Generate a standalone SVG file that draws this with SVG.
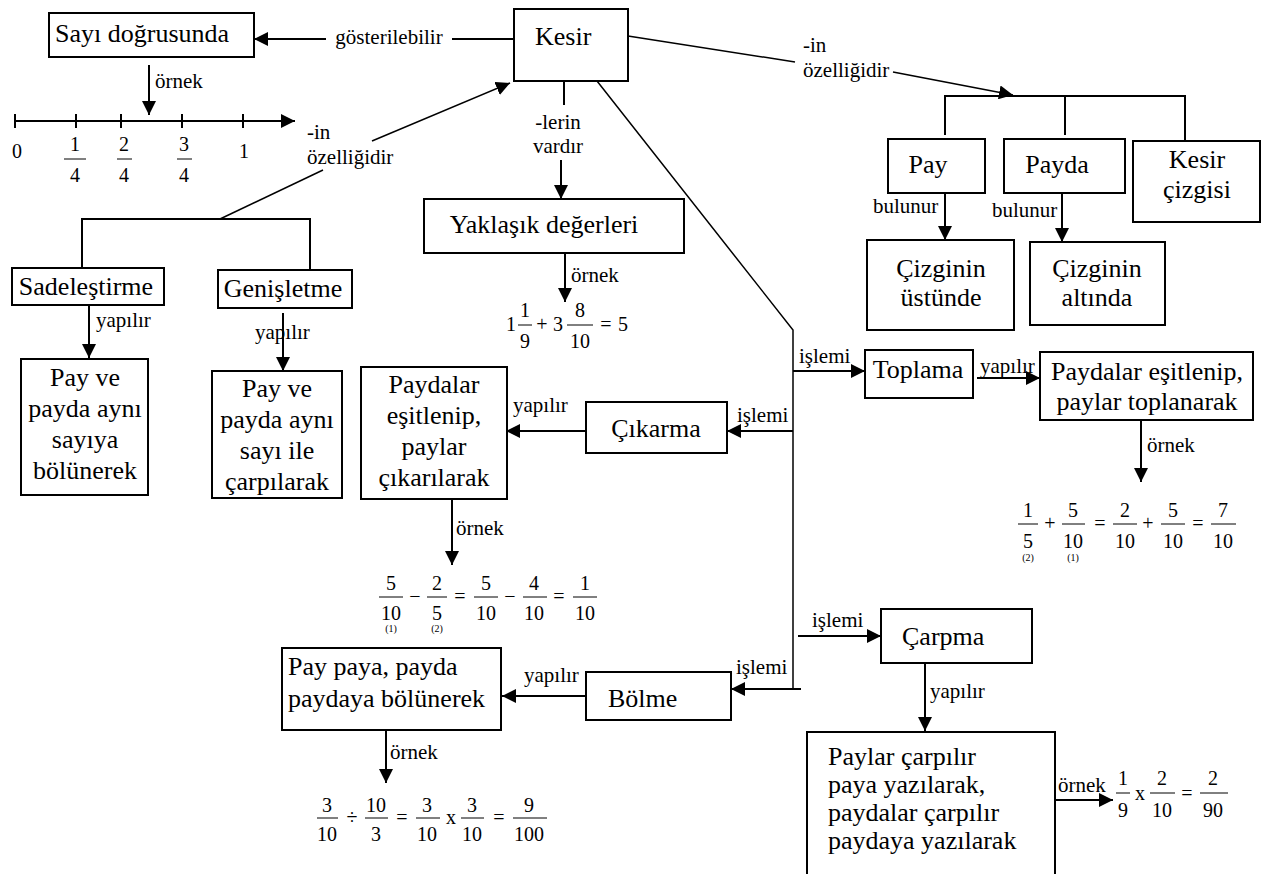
<svg xmlns="http://www.w3.org/2000/svg" width="1272" height="874" viewBox="0 0 1272 874">
<defs>
  <marker id="ah" markerUnits="userSpaceOnUse" markerWidth="15" markerHeight="14" refX="14" refY="7" orient="auto">
    <path d="M0,0 L14,7 L0,14 z" fill="#000"/>
  </marker>
  <style>
    .box { fill: #fff; stroke: #000; stroke-width: 2; }
    .ln { stroke: #000; stroke-width: 2; fill: none; }
    .thin { stroke-width: 1.5; }
    .bar { stroke: #000; stroke-width: 1; }
    .arr { marker-end: url(#ah); }
    text { font-family: "Liberation Serif", "Times New Roman", serif; fill: #000; }
    .t { font-size: 26px; }
    .lb { font-size: 21px; }
    .n { font-size: 20px; }
    .s { font-size: 10px; }
    .m { text-anchor: middle; }
  </style>
</defs>
<rect width="1272" height="874" fill="#fff"/>

<!-- connectors -->
<g id="connectors" class="ln">
  <line x1="514" y1="39" x2="452" y2="39"/>
  <line class="arr" x1="326" y1="39" x2="254" y2="39"/>
  <line class="thin" x1="628" y1="36" x2="795" y2="62"/>
  <line class="thin arr" x1="893" y1="72" x2="1013" y2="95"/>
  <polyline points="945,135 945,96 1185,96 1185,140"/>
  <line x1="1065" y1="96" x2="1065" y2="135"/>
  <line class="arr" x1="945" y1="193" x2="945" y2="240"/>
  <line class="arr" x1="1062" y1="193" x2="1062" y2="242"/>
  <line class="thin arr" x1="372" y1="141" x2="510" y2="83"/>
  <line class="thin" x1="323" y1="170" x2="220" y2="219"/>
  <polyline points="82,268 82,219 310,219 310,270"/>
  <line class="arr" x1="89" y1="305" x2="89" y2="358"/>
  <line class="arr" x1="283" y1="313" x2="283" y2="371"/>
  <line class="arr" x1="149" y1="65" x2="149" y2="115"/>
  <line x1="564" y1="81" x2="564" y2="105"/>
  <line class="arr" x1="561" y1="160" x2="561" y2="199"/>
  <line class="arr" x1="565" y1="253" x2="565" y2="302"/>
  <polyline class="thin" points="597,81 793,330 793,689"/>
  <line class="arr" x1="793" y1="371" x2="865" y2="371"/>
  <line class="arr" x1="977" y1="378" x2="1040" y2="378"/>
  <line class="arr" x1="1141" y1="420" x2="1141" y2="482"/>
  <line class="arr" x1="793" y1="431" x2="727" y2="431"/>
  <line class="arr" x1="586" y1="431" x2="506" y2="431"/>
  <line class="arr" x1="452" y1="499" x2="452" y2="565"/>
  <line class="arr" x1="798" y1="636" x2="881" y2="636"/>
  <line class="arr" x1="925" y1="663" x2="925" y2="731"/>
  <line class="arr" x1="1055" y1="800" x2="1113" y2="800"/>
  <line class="arr" x1="801" y1="689" x2="731" y2="689"/>
  <line class="arr" x1="586" y1="696" x2="502" y2="696"/>
  <line class="arr" x1="386" y1="730" x2="386" y2="783"/>
</g>

<!-- connector labels -->
<g id="connector-labels" class="lb">
  <text class="lb m" x="389" y="44">gösterilebilir</text>
  <text class="lb" x="155" y="88">örnek</text>
  <text class="lb" x="307" y="139">-in</text>
  <text class="lb" x="307" y="164">özelliğidir</text>
  <text class="lb" x="803" y="52">-in</text>
  <text class="lb" x="803" y="77">özelliğidir</text>
  <text class="lb m" x="558" y="129">-lerin</text>
  <text class="lb m" x="558" y="153">vardır</text>
  <text class="lb" x="873" y="213">bulunur</text>
  <text class="lb" x="992" y="217">bulunur</text>
  <text class="lb" x="96" y="327">yapılır</text>
  <text class="lb" x="255" y="339">yapılır</text>
  <text class="lb" x="571" y="282">örnek</text>
  <text class="lb" x="799" y="363">işlemi</text>
  <text class="lb" x="980" y="373">yapılır</text>
  <text class="lb" x="1147" y="452">örnek</text>
  <text class="lb" x="737" y="422">işlemi</text>
  <text class="lb" x="513" y="412">yapılır</text>
  <text class="lb" x="456" y="535">örnek</text>
  <text class="lb" x="812" y="627">işlemi</text>
  <text class="lb" x="930" y="698">yapılır</text>
  <text class="lb" x="1058" y="792">örnek</text>
  <text class="lb" x="736" y="674">işlemi</text>
  <text class="lb" x="524" y="682">yapılır</text>
  <text class="lb" x="390" y="759">örnek</text>
</g>

<!-- nodes -->
<g id="n-kesir">
  <rect class="box" x="514" y="9" width="114" height="72"/>
  <text class="t" x="535" y="45">Kesir</text>
</g>
<g id="n-sayi-dogrusu">
  <rect class="box" x="49" y="13" width="205" height="44"/>
  <text class="t" x="55" y="42">Sayı doğrusunda</text>
</g>
<g id="number-line">
  <line class="ln arr" x1="15" y1="121" x2="295" y2="121"/>
  <path class="ln" d="M15,114V128 M76,114V128 M121,114V128 M182,114V128 M243,114V128"/>
  <text class="n m" x="17" y="158">0</text>
  <text class="n m" x="75" y="151">1</text>
  <line class="bar" x1="64" y1="159" x2="86" y2="159"/>
  <text class="n m" x="75" y="182">4</text>
  <text class="n m" x="124" y="151">2</text>
  <line class="bar" x1="117" y1="159" x2="132" y2="159"/>
  <text class="n m" x="124" y="182">4</text>
  <text class="n m" x="184" y="151">3</text>
  <line class="bar" x1="177" y1="159" x2="192" y2="159"/>
  <text class="n m" x="184" y="182">4</text>
  <text class="n m" x="244" y="158">1</text>
</g>
<g id="n-pay">
  <rect class="box" x="888" y="139" width="97" height="54"/>
  <text class="t m" x="928" y="173">Pay</text>
</g>
<g id="n-payda">
  <rect class="box" x="1004" y="139" width="121" height="54"/>
  <text class="t m" x="1057" y="173">Payda</text>
</g>
<g id="n-kesir-cizgisi">
  <rect class="box" x="1133" y="141" width="127" height="81"/>
  <text class="t m" x="1197" y="168">Kesir</text>
  <text class="t m" x="1197" y="198">çizgisi</text>
</g>
<g id="n-cizginin-ustunde">
  <rect class="box" x="867" y="240" width="147" height="90"/>
  <text class="t m" x="941" y="277">Çizginin</text>
  <text class="t m" x="941" y="306">üstünde</text>
</g>
<g id="n-cizginin-altinda">
  <rect class="box" x="1030" y="242" width="135" height="83"/>
  <text class="t m" x="1097" y="277">Çizginin</text>
  <text class="t m" x="1097" y="306">altında</text>
</g>
<g id="n-sadelestirme">
  <rect class="box" x="12" y="268" width="152" height="37"/>
  <text class="t m" x="86" y="295">Sadeleştirme</text>
</g>
<g id="n-genisletme">
  <rect class="box" x="218" y="270" width="134" height="38"/>
  <text class="t m" x="283" y="297">Genişletme</text>
</g>
<g id="n-bolunerek">
  <rect class="box" x="21" y="359" width="127" height="136"/>
  <text class="t m" x="85" y="386">Pay ve</text>
  <text class="t m" x="85" y="417">payda aynı</text>
  <text class="t m" x="85" y="448">sayıya</text>
  <text class="t m" x="85" y="479">bölünerek</text>
</g>
<g id="n-carpilarak">
  <rect class="box" x="212" y="371" width="130" height="127"/>
  <text class="t m" x="277" y="397">Pay ve</text>
  <text class="t m" x="277" y="428">payda aynı</text>
  <text class="t m" x="277" y="459">sayı ile</text>
  <text class="t m" x="277" y="490">çarpılarak</text>
</g>
<g id="n-yaklasik">
  <rect class="box" x="424" y="199" width="260" height="54"/>
  <text class="t m" x="544" y="233">Yaklaşık değerleri</text>
</g>
<g id="expr-yaklasik">
  <text class="n m" x="511" y="331">1</text>
  <text class="n m" x="525" y="317">1</text>
  <line class="bar" x1="518" y1="325" x2="532" y2="325"/>
  <text class="n m" x="525" y="348">9</text>
  <text class="n m" x="542" y="331">+</text>
  <text class="n m" x="558" y="331">3</text>
  <text class="n m" x="580" y="317">8</text>
  <line class="bar" x1="567" y1="325" x2="593" y2="325"/>
  <text class="n m" x="580" y="348">10</text>
  <text class="n m" x="606" y="331">=</text>
  <text class="n m" x="623" y="331">5</text>
</g>
<g id="n-toplama">
  <rect class="box" x="865" y="350" width="108" height="48"/>
  <text class="t m" x="918" y="378">Toplama</text>
</g>
<g id="n-toplama-kural">
  <rect class="box" x="1040" y="352" width="213" height="68"/>
  <text class="t m" x="1147" y="380">Paydalar eşitlenip,</text>
  <text class="t m" x="1147" y="410">paylar toplanarak</text>
</g>
<g id="expr-toplama">
  <text class="n m" x="1028" y="517">1</text>
  <line class="bar" x1="1018" y1="524" x2="1038" y2="524"/>
  <text class="n m" x="1028" y="548">5</text>
  <text class="s m" x="1028" y="561">(2)</text>
  <text class="n m" x="1050" y="530">+</text>
  <text class="n m" x="1073" y="517">5</text>
  <line class="bar" x1="1062" y1="524" x2="1085" y2="524"/>
  <text class="n m" x="1073" y="548">10</text>
  <text class="s m" x="1073" y="561">(1)</text>
  <text class="n m" x="1100" y="530">=</text>
  <text class="n m" x="1125" y="517">2</text>
  <line class="bar" x1="1113" y1="524" x2="1137" y2="524"/>
  <text class="n m" x="1125" y="548">10</text>
  <text class="n m" x="1148" y="530">+</text>
  <text class="n m" x="1173" y="517">5</text>
  <line class="bar" x1="1161" y1="524" x2="1185" y2="524"/>
  <text class="n m" x="1173" y="548">10</text>
  <text class="n m" x="1198" y="530">=</text>
  <text class="n m" x="1223" y="517">7</text>
  <line class="bar" x1="1211" y1="524" x2="1236" y2="524"/>
  <text class="n m" x="1223" y="548">10</text>
</g>
<g id="n-cikarma">
  <rect class="box" x="586" y="402" width="141" height="51"/>
  <text class="t m" x="656" y="437">Çıkarma</text>
</g>
<g id="n-cikarma-kural">
  <rect class="box" x="361" y="367" width="146" height="132"/>
  <text class="t m" x="434" y="393">Paydalar</text>
  <text class="t m" x="434" y="424">eşitlenip,</text>
  <text class="t m" x="434" y="455">paylar</text>
  <text class="t m" x="434" y="486">çıkarılarak</text>
</g>
<g id="expr-cikarma">
  <text class="n m" x="391" y="590">5</text>
  <line class="bar" x1="379" y1="597" x2="403" y2="597"/>
  <text class="n m" x="391" y="620">10</text>
  <text class="s m" x="391" y="632">(1)</text>
  <text class="n m" x="415" y="603">−</text>
  <text class="n m" x="437" y="590">2</text>
  <line class="bar" x1="427" y1="597" x2="447" y2="597"/>
  <text class="n m" x="437" y="620">5</text>
  <text class="s m" x="437" y="632">(2)</text>
  <text class="n m" x="460" y="603">=</text>
  <text class="n m" x="486" y="590">5</text>
  <line class="bar" x1="474" y1="597" x2="498" y2="597"/>
  <text class="n m" x="486" y="620">10</text>
  <text class="n m" x="510" y="603">−</text>
  <text class="n m" x="534" y="590">4</text>
  <line class="bar" x1="523" y1="597" x2="547" y2="597"/>
  <text class="n m" x="534" y="620">10</text>
  <text class="n m" x="559" y="603">=</text>
  <text class="n m" x="585" y="590">1</text>
  <line class="bar" x1="573" y1="597" x2="597" y2="597"/>
  <text class="n m" x="585" y="620">10</text>
</g>
<g id="n-carpma">
  <rect class="box" x="881" y="609" width="151" height="54"/>
  <text class="t" x="902" y="645">Çarpma</text>
</g>
<g id="n-carpma-kural">
  <rect class="box" x="807" y="732" width="248" height="160"/>
  <text class="t" x="828" y="765">Paylar çarpılır</text>
  <text class="t" x="828" y="793">paya yazılarak,</text>
  <text class="t" x="828" y="821">paydalar çarpılır</text>
  <text class="t" x="828" y="849">paydaya yazılarak</text>
</g>
<g id="expr-carpma">
  <text class="n m" x="1123" y="785">1</text>
  <line class="bar" x1="1116" y1="793" x2="1130" y2="793"/>
  <text class="n m" x="1123" y="817">9</text>
  <text class="n m" x="1140" y="800">x</text>
  <text class="n m" x="1162" y="785">2</text>
  <line class="bar" x1="1150" y1="793" x2="1175" y2="793"/>
  <text class="n m" x="1162" y="817">10</text>
  <text class="n m" x="1187" y="800">=</text>
  <text class="n m" x="1213" y="785">2</text>
  <line class="bar" x1="1200" y1="793" x2="1228" y2="793"/>
  <text class="n m" x="1213" y="817">90</text>
</g>
<g id="n-bolme">
  <rect class="box" x="586" y="672" width="145" height="48"/>
  <text class="t" x="608" y="707">Bölme</text>
</g>
<g id="n-bolme-kural">
  <rect class="box" x="282" y="648" width="219" height="82"/>
  <text class="t" x="288" y="675">Pay paya, payda</text>
  <text class="t" x="288" y="707">paydaya bölünerek</text>
</g>
<g id="expr-bolme">
  <text class="n m" x="327" y="812">3</text>
  <line class="bar" x1="317" y1="818" x2="338" y2="818"/>
  <text class="n m" x="327" y="841">10</text>
  <text class="n m" x="352" y="824">÷</text>
  <text class="n m" x="376" y="812">10</text>
  <line class="bar" x1="365" y1="818" x2="388" y2="818"/>
  <text class="n m" x="376" y="841">3</text>
  <text class="n m" x="402" y="824">=</text>
  <text class="n m" x="427" y="812">3</text>
  <line class="bar" x1="416" y1="818" x2="440" y2="818"/>
  <text class="n m" x="427" y="841">10</text>
  <text class="n m" x="451" y="824">x</text>
  <text class="n m" x="472" y="812">3</text>
  <line class="bar" x1="461" y1="818" x2="484" y2="818"/>
  <text class="n m" x="472" y="841">10</text>
  <text class="n m" x="499" y="824">=</text>
  <text class="n m" x="529" y="812">9</text>
  <line class="bar" x1="513" y1="818" x2="547" y2="818"/>
  <text class="n m" x="529" y="841">100</text>
</g>
</svg>
